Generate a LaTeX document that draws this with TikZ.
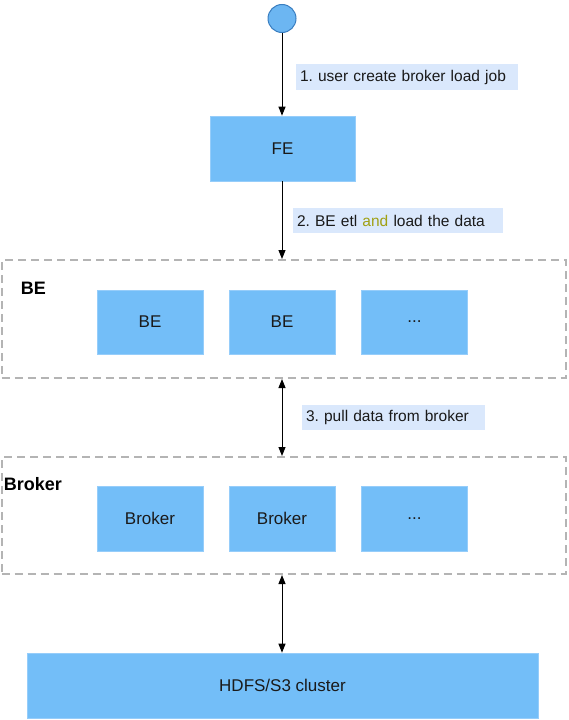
\documentclass[tikz,border=0pt]{standalone}
\usepackage{fontspec}
\setmainfont{Liberation Sans}
\usetikzlibrary{arrows.meta}
\frenchspacing
\definecolor{boxblue}{RGB}{115,190,248}
\definecolor{boxedge}{RGB}{150,205,250}
\definecolor{circfill}{RGB}{108,182,242}
\definecolor{circedge}{RGB}{58,126,192}
\definecolor{lblfill}{RGB}{218,232,252}
\definecolor{grpedge}{RGB}{180,180,180}
\definecolor{txt}{RGB}{26,26,26}
\definecolor{olive}{RGB}{160,160,20}
\tikzset{
  bluebox/.style={rectangle, fill=boxblue, draw=boxedge, line width=0.6pt, inner sep=0pt, text=txt,
    font=\fontsize{17}{20}\selectfont},
  grpbox/.style={rectangle, draw=grpedge, line width=2pt, dash pattern=on 8pt off 5pt, inner sep=0pt},
  lbl/.style={rectangle, fill=lblfill, inner xsep=4pt, inner ysep=0pt, align=left, text=txt,
    font=\fontsize{15.5}{18}\selectfont},
  hdr/.style={font=\bfseries\fontsize{18}{21}\selectfont, text=black, inner sep=0pt},
  arr/.style={line width=1pt, -{Triangle[length=9pt,width=7pt]}},
  darr/.style={line width=1pt, {Triangle[length=9pt,width=7pt]}-{Triangle[length=9pt,width=7pt]}},
}
\begin{document}
\begin{tikzpicture}[x=1pt,y=-1pt]
\useasboundingbox (0,0) rectangle (568,720);
% start circle
\node[circle, fill=circfill, draw=circedge, line width=1pt, minimum size=28pt, inner sep=0pt] (start) at (282,18.5) {};
% FE
\node[bluebox, minimum width=145pt, minimum height=65pt] (FE) at (282.5,148.5) {FE};
% labels
\node[lbl, minimum width=222pt, minimum height=26pt, text width=214pt] (l1) at (407,77) {1. user create broker load job};
\node[lbl, minimum width=210pt, minimum height=25pt, text width=202pt] (l2) at (398,220.5) {2. BE etl \textcolor{olive}{and} load the data};
\node[lbl, minimum width=183pt, minimum height=25pt, text width=175pt] (l3) at (393.5,417.5) {3. pull data from broker};
% BE group
\node[grpbox, minimum width=564pt, minimum height=118pt] (BEgrp) at (283.5,319) {};
\node[hdr] (BEh) at (33.5,288) {BE};
\node[bluebox, minimum width=106pt, minimum height=64pt] (BE1) at (150,322) {BE};
\node[bluebox, minimum width=106pt, minimum height=64pt] (BE2) at (282,322) {BE};
\node[bluebox, minimum width=106pt, minimum height=64pt] (BE3) at (414.5,322) {...};
% Broker group
\node[grpbox, minimum width=564pt, minimum height=117pt] (Brgrp) at (283.5,515.5) {};
\node[hdr] (Brh) at (33,484) {Broker};
\node[bluebox, minimum width=106pt, minimum height=65pt] (Br1) at (150,518.5) {Broker};
\node[bluebox, minimum width=106pt, minimum height=65pt] (Br2) at (282,518.5) {Broker};
\node[bluebox, minimum width=106pt, minimum height=65pt] (Br3) at (414.5,518.5) {...};
% HDFS
\node[bluebox, minimum width=511pt, minimum height=65pt] (HDFS) at (282.5,685.5) {HDFS/S3 cluster};
% connectors
\draw[arr] (start.south) -- (start.south |- FE.north);
\draw[arr] (FE.south -| start) -- (start |- BEgrp.north);
\draw[darr] (start |- BEgrp.south) -- (start |- Brgrp.north);
\draw[darr] (start |- Brgrp.south) -- (start |- HDFS.north);
\end{tikzpicture}
\end{document}
